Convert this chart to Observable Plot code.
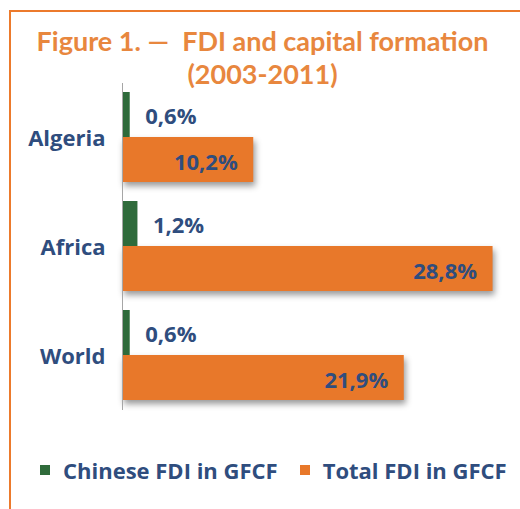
<!DOCTYPE html>
<html>
<head>
<meta charset="utf-8">
<script src="https://cdn.jsdelivr.net/npm/d3@7"></script>
<script src="https://cdn.jsdelivr.net/npm/@observablehq/plot@0.6"></script>
<style>
  html, body { margin: 0; padding: 0; background: #fff; }
  #page { position: relative; width: 520px; height: 509px; overflow: hidden; background: #fff; }
  #frame { position: absolute; left: 9px; top: 10px; width: 600px; height: 600px;
           border-top: 2.5px solid #ec7a2c; border-left: 2.5px solid #ec7a2c; box-sizing: border-box; }
  #title { position: absolute; top: 24px; left: 0; width: 525px; text-align: center;
           font-family: Lato, "Open Sans", sans-serif; font-weight: bold; font-size: 27px;
           line-height: 33px; color: #e8873e; }
  #chart { position: absolute; top: 80px; left: 0; }
  #legend { position: absolute; top: 455px; left: 40px; display: flex; align-items: center;
            font-family: "Open Sans", sans-serif; font-weight: bold; font-size: 22px; color: #2f4d7e; white-space: nowrap; }
  .item { display: flex; align-items: center; }
  .sw { width: 10px; height: 10px; margin-right: 13px; }
  .shadowbar { filter: drop-shadow(2px 4px 3px rgba(0,0,0,0.4)); }
</style>
</head>
<body>
<div id="page">
  <div id="frame"></div>
  <div id="title">Figure 1. —&nbsp; FDI and capital formation<br>(2003-2011)</div>
  <div id="chart"></div>
  <div id="legend"></div>
</div>
<script>
// ---- data ----
const countries = ["Algeria", "Africa", "World"];
const chineseFDI = [0.6, 1.2, 0.6];
const totalFDI = [10.2, 28.8, 21.9];
const seriesNames = ["Chinese FDI in GFCF", "Total FDI in GFCF"];

// ---- styles ----
const green = "#2f6b3b";
const orange = "#e8782a";
const blue = "#2f4d7e";
const seriesColors = [green, orange];

const fmt = v => v.toFixed(1).replace(".", ",") + "%";
const rows = countries.map((c, i) => ({country: c, chinese: chineseFDI[i], total: totalFDI[i]}));

const chart = Plot.plot({
  width: 520,
  height: 340,
  marginLeft: 122,
  marginRight: 12,
  marginTop: 3,
  marginBottom: 10,
  style: {fontFamily: "'Open Sans', sans-serif", background: "transparent"},
  x: {domain: [0, 30], axis: null},
  y: {domain: countries, axis: null, paddingInner: 0.174, paddingOuter: 0.087},
  marks: [
    Plot.barX(rows, {x: "total", y: "country", fill: orange, insetTop: 45, className: "shadowbar"}),
    Plot.barX(rows, {x: "chinese", y: "country", fill: green, insetBottom: 45}),
    Plot.ruleX([0], {stroke: "#a6a6a6", strokeWidth: 1}),
    Plot.text(rows, {x: () => 0, y: "country", text: "country", textAnchor: "end", dx: -17, dy: 1,
                     fontSize: 22, fontWeight: "bold", fill: blue}),
    Plot.text(rows, {x: "chinese", y: "country", text: d => fmt(d.chinese), textAnchor: "start", dx: 15, dy: -21,
                     fontSize: 22, fontWeight: "bold", fill: blue}),
    Plot.text(rows, {x: "total", y: "country", text: d => fmt(d.total), textAnchor: "end", dx: -16, dy: 25,
                     fontSize: 22, fontWeight: "bold", fill: blue})
  ]
});
document.getElementById("chart").appendChild(chart);

const legend = d3.select("#legend");
seriesNames.forEach((name, i) => {
  const item = legend.append("div").attr("class", "item").style("margin-right", i === 0 ? "22px" : "0");
  item.append("div").attr("class", "sw").style("background", seriesColors[i]);
  item.append("span").text(name);
});
</script>
</body>
</html>
